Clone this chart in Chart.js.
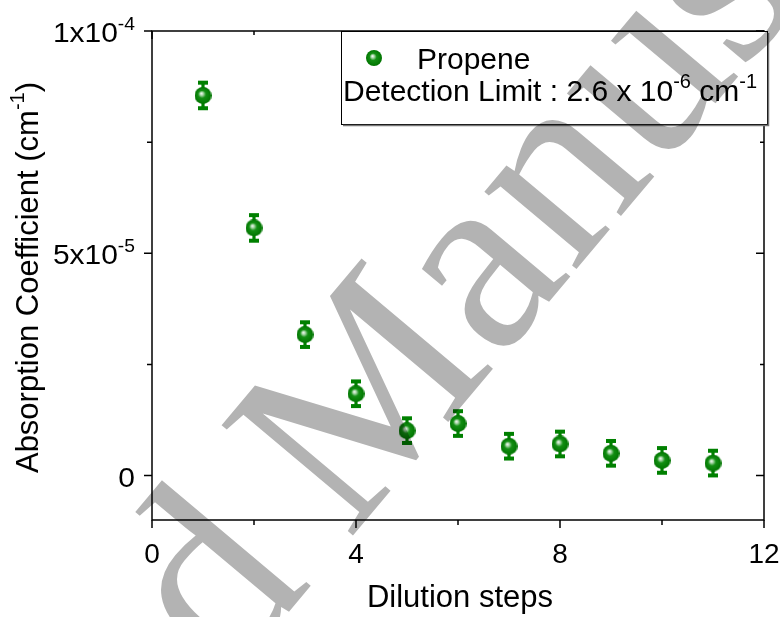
<!DOCTYPE html>
<html>
<head>
<meta charset="utf-8">
<script src="https://cdn.jsdelivr.net/npm/chart.js@4.4.0/dist/chart.umd.min.js"></script>
<style>
  html, body { margin: 0; padding: 0; background: #fff; }
</style>
</head>
<body>
<canvas id="chart" width="780" height="617"></canvas>
<script>
// data
const steps = [1, 2, 3, 4, 5, 6, 7, 8, 9, 10, 11];
const absorption = [8.55e-5, 5.57e-5, 3.17e-5, 1.84e-5, 1.01e-5, 1.17e-5, 6.6e-6, 7.1e-6, 5.0e-6, 3.4e-6, 2.8e-6];
const errors = [3.1e-6, 3.1e-6, 3.0e-6, 3.0e-6, 3.0e-6, 3.0e-6, 3.0e-6, 3.0e-6, 3.0e-6, 3.0e-6, 3.0e-6];

const xMajor = [0, 4, 8, 12];
const xMinor = [2, 6, 10];
const yMajor = [0, 5e-5, 1e-4];
const yMinor = [2.5e-5, 7.5e-5];
const yTickBase = ['0', '5x10', '1x10'];
const yTickExp = ['', '-5', '-4'];

const GREEN = '#008000';
const FONT = '"Liberation Sans", Arial, sans-serif';

// sphere-like marker
function makeSphere(d) {
    const c = document.createElement('canvas');
    c.width = d; c.height = d;
    const g = c.getContext('2d');
    const r = d / 2;
    const grad = g.createRadialGradient(r * 0.8, r * 0.75, 0, r, r, r);
    grad.addColorStop(0, '#ffffff');
    grad.addColorStop(0.2, '#a8d6a8');
    grad.addColorStop(0.45, '#138f13');
    grad.addColorStop(1, '#007400');
    g.fillStyle = grad;
    g.beginPath();
    g.arc(r, r, r, 0, Math.PI * 2);
    g.fill();
    return c;
}
const sphere = makeSphere(17);
const legendSphere = makeSphere(16);

// text with superscript pieces: parts = [[text, isSup], ...]
function supWidth(ctx, parts, size) {
    let w = 0;
    parts.forEach(p => {
        ctx.font = (p[1] ? Math.round(size * 0.66) : size) + 'px ' + FONT;
        w += ctx.measureText(p[0]).width;
    });
    return w;
}
function drawSup(ctx, parts, x, y, size) {
    let cx = x;
    parts.forEach(p => {
        ctx.font = (p[1] ? Math.round(size * 0.66) : size) + 'px ' + FONT;
        ctx.fillText(p[0], cx, p[1] ? y - size * 0.44 : y);
        cx += ctx.measureText(p[0]).width;
    });
}

const decorPlugin = {
    id: 'decor',
    beforeDatasetsDraw(chart) {
        const ctx = chart.ctx;
        const xs = chart.scales.x, ys = chart.scales.y;
        ctx.save();
        ctx.strokeStyle = GREEN;
        ctx.fillStyle = GREEN;
        ctx.lineWidth = 3.2;
        steps.forEach((s, i) => {
            const px = xs.getPixelForValue(s);
            const top = ys.getPixelForValue(absorption[i] + errors[i]);
            const bot = ys.getPixelForValue(absorption[i] - errors[i]);
            ctx.beginPath();
            ctx.moveTo(px, top);
            ctx.lineTo(px, bot);
            ctx.stroke();
            ctx.fillRect(px - 5, top - 1, 10, 4);
            ctx.fillRect(px - 5, bot - 3, 10, 4);
        });
        ctx.restore();
    },
    afterDraw(chart) {
        const ctx = chart.ctx;
        const a = chart.chartArea;
        const xs = chart.scales.x, ys = chart.scales.y;
        ctx.save();

        // frame
        ctx.strokeStyle = '#000';
        ctx.lineWidth = 1.5;
        ctx.strokeRect(a.left, a.top, a.right - a.left, a.bottom - a.top);

        // ticks
        ctx.beginPath();
        xMajor.forEach(v => {
            const p = xs.getPixelForValue(v);
            ctx.moveTo(p, a.bottom); ctx.lineTo(p, a.bottom + 8);
            ctx.moveTo(p, a.top); ctx.lineTo(p, a.top + 8);
        });
        xMinor.forEach(v => {
            const p = xs.getPixelForValue(v);
            ctx.moveTo(p, a.bottom); ctx.lineTo(p, a.bottom + 5);
            ctx.moveTo(p, a.top); ctx.lineTo(p, a.top + 4);
        });
        yMajor.forEach(v => {
            const p = ys.getPixelForValue(v);
            ctx.moveTo(a.left, p); ctx.lineTo(a.left - 8, p);
            ctx.moveTo(a.right, p); ctx.lineTo(a.right - 8, p);
        });
        yMinor.forEach(v => {
            const p = ys.getPixelForValue(v);
            ctx.moveTo(a.left, p); ctx.lineTo(a.left - 5, p);
            ctx.moveTo(a.right, p); ctx.lineTo(a.right - 4, p);
        });
        ctx.stroke();

        // tick labels
        ctx.fillStyle = '#000';
        ctx.textBaseline = 'alphabetic';
        ctx.textAlign = 'center';
        ctx.font = '28px ' + FONT;
        xMajor.forEach(v => {
            ctx.fillText(String(v), xs.getPixelForValue(v), 563);
        });
        ctx.textAlign = 'left';
        const stretch = 1.07;
        yMajor.forEach((v, i) => {
            const parts = [[yTickBase[i], false]];
            if (yTickExp[i]) parts.push([yTickExp[i], true]);
            const w = supWidth(ctx, parts, 28) * stretch;
            ctx.save();
            ctx.translate(a.left - 17 - w, ys.getPixelForValue(v) + 11);
            ctx.scale(stretch, 1);
            drawSup(ctx, parts, 0, 0, 28);
            ctx.restore();
        });

        // axis titles
        ctx.font = '31px ' + FONT;
        ctx.textAlign = 'center';
        ctx.fillText('Dilution steps', (a.left + a.right) / 2 + 2, 607);

        ctx.save();
        ctx.translate(38, (a.top + a.bottom) / 2 + 2);
        ctx.rotate(-Math.PI / 2);
        ctx.textAlign = 'left';
        const yTitle = [['Absorption Coefficient (cm', false], ['-1', true], [')', false]];
        const tw = supWidth(ctx, yTitle, 31);
        drawSup(ctx, yTitle, -tw / 2, 0, 31);
        ctx.restore();

        // legend box
        const lx = 341, ly = 31, lw = 426, lh = 93;
        ctx.fillStyle = '#fff';
        ctx.fillRect(lx, ly, lw, lh);
        ctx.strokeStyle = '#000';
        ctx.lineWidth = 1;
        ctx.strokeRect(lx + 0.5, ly + 0.5, lw, lh);
        ctx.strokeStyle = '#777';
        ctx.lineWidth = 1.5;
        ctx.beginPath();
        ctx.moveTo(lx + 2, ly + lh + 1.5); ctx.lineTo(lx + lw + 1.5, ly + lh + 1.5);
        ctx.lineTo(lx + lw + 1.5, ly + 2);
        ctx.stroke();
        ctx.drawImage(legendSphere, 374 - 8, 58 - 8);
        ctx.fillStyle = '#000';
        ctx.textAlign = 'left';
        ctx.font = '30px ' + FONT;
        ctx.fillText(chart.data.datasets[0].label, 417, 69);
        drawSup(ctx, [['Detection Limit : 2.6 x 10', false], ['-6', true], [' cm', false], ['-1', true]], 343, 101, 30);

        // watermark, anchored on the bottom vertex of the "M"
        ctx.globalCompositeOperation = 'multiply';
        ctx.fillStyle = '#b3b3b3';
        ctx.font = '262px "Liberation Serif", "Times New Roman", serif';
        ctx.textAlign = 'left';
        const mW = ctx.measureText('M').width;
        const w1 = ctx.measureText('Accepted').width;
        ctx.translate(423, 452);
        ctx.rotate(-50 * Math.PI / 180);
        ctx.fillText('Manuscript', -mW / 2, 0);
        ctx.fillText('Accepted', -mW / 2 - 55 - w1, 0);
        ctx.restore();
    }
};

new Chart(document.getElementById('chart'), {
    type: 'scatter',
    data: {
        datasets: [{
            label: 'Propene',
            data: steps.map((s, i) => ({ x: s, y: absorption[i] })),
            pointStyle: sphere,
            pointRadius: 9,
            pointHoverRadius: 9
        }]
    },
    options: {
        responsive: false,
        animation: false,
        events: [],
        layout: { padding: { top: 31, right: 16, left: 0, bottom: 0 } },
        plugins: {
            legend: { display: false },
            tooltip: { enabled: false }
        },
        scales: {
            x: {
                type: 'linear',
                min: 0, max: 12,
                ticks: { display: false },
                grid: { display: false },
                border: { display: false },
                afterFit(scale) { scale.height = 97; }
            },
            y: {
                type: 'linear',
                min: -1e-5, max: 1e-4,
                ticks: { display: false },
                grid: { display: false },
                border: { display: false },
                afterFit(scale) { scale.width = 152; }
            }
        }
    },
    plugins: [decorPlugin]
});
</script>
</body>
</html>
